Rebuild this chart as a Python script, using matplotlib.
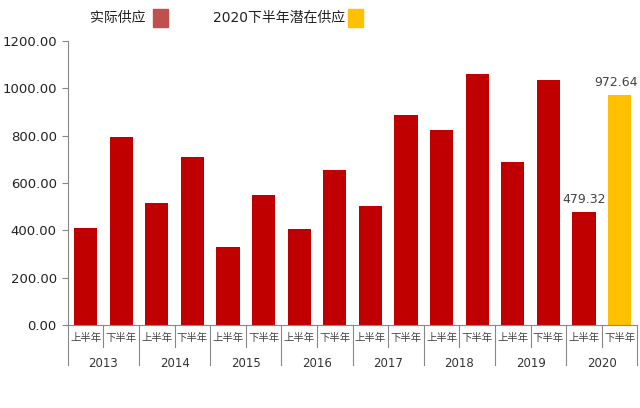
import numpy as np
import matplotlib.pyplot as plt
import matplotlib.transforms as mtransforms

plt.rcParams['font.family'] = ['DejaVu Sans', 'Noto Sans CJK SC']

years = ['2013', '2014', '2015', '2016', '2017', '2018', '2019', '2020']
halves = ['上半年', '下半年']
actual = [410, 794, 515, 710, 330, 549, 406, 655, 503, 887, 824, 1060, 689, 1035, 479.32]
potential = [972.64]

red = '#C00000'
yellow = '#FFC000'

fig = plt.figure(figsize=(6.4, 4.08), dpi=100)
ax = fig.add_axes([0.106, 0.203, 0.89, 0.697])

n = len(actual) + len(potential)
ind = np.arange(n)
width = 0.65
ax.bar(ind[:len(actual)], actual, width, color=red)
ax.bar(ind[len(actual):], potential, width, color=yellow)

ax.set_xlim(-0.5, n - 0.5)
ax.set_ylim(0, 1200)
ax.set_yticks(np.arange(0, 1201, 200))
ax.set_yticklabels(['%.2f' % v for v in np.arange(0, 1201, 200)], fontsize=9.5, color='#222222')
ax.tick_params(axis='y', direction='out', length=4, pad=4, color='#888888')
ax.set_xticks([])
for s in ['top', 'right']:
    ax.spines[s].set_visible(False)
ax.spines['left'].set_color('#888888')
ax.spines['bottom'].set_color('#888888')

# value labels for 2020
ax.text(ind[len(actual) - 1], actual[-1] + 25, '%.2f' % actual[-1], ha='center', va='bottom',
        fontsize=9, color='#444444')
ax.text(ind[-1] - 0.1, potential[0] + 25, '%.2f' % potential[0], ha='center', va='bottom',
        fontsize=9, color='#444444')

# two-level category axis
trans = mtransforms.blended_transform_factory(ax.transData, ax.transAxes)
for i in range(n):
    ax.text(i, -0.045, halves[i % 2], transform=trans, ha='center', va='center',
            fontsize=7.5, color='#444444', family=['Noto Sans CJK SC'])
for j, y in enumerate(years):
    ax.text(2 * j + 0.5, -0.135, y, transform=trans, ha='center', va='center',
            fontsize=8.5, color='#333333')
for k in range(n + 1):
    x = k - 0.5
    low = -0.14 if k % 2 == 0 else -0.075
    ax.plot([x, x], [0, low], transform=trans, color='#888888', lw=0.8, clip_on=False)

# legend at top
fig.text(0.14, 0.955, '实际供应', ha='left', va='center', fontsize=10,
         family=['Noto Sans CJK SC'], color='#222222')
fig.patches.append(plt.Rectangle((0.239, 0.935), 0.024, 0.043, transform=fig.transFigure,
                                 color='#C0504D', figure=fig))
fig.text(0.333, 0.955, '2020下半年潜在供应', ha='left', va='center', fontsize=10,
         family=['DejaVu Sans', 'Noto Sans CJK SC'], color='#222222')
fig.patches.append(plt.Rectangle((0.543, 0.935), 0.024, 0.043, transform=fig.transFigure,
                                 color=yellow, figure=fig))

fig.savefig('out.png', dpi=100)
